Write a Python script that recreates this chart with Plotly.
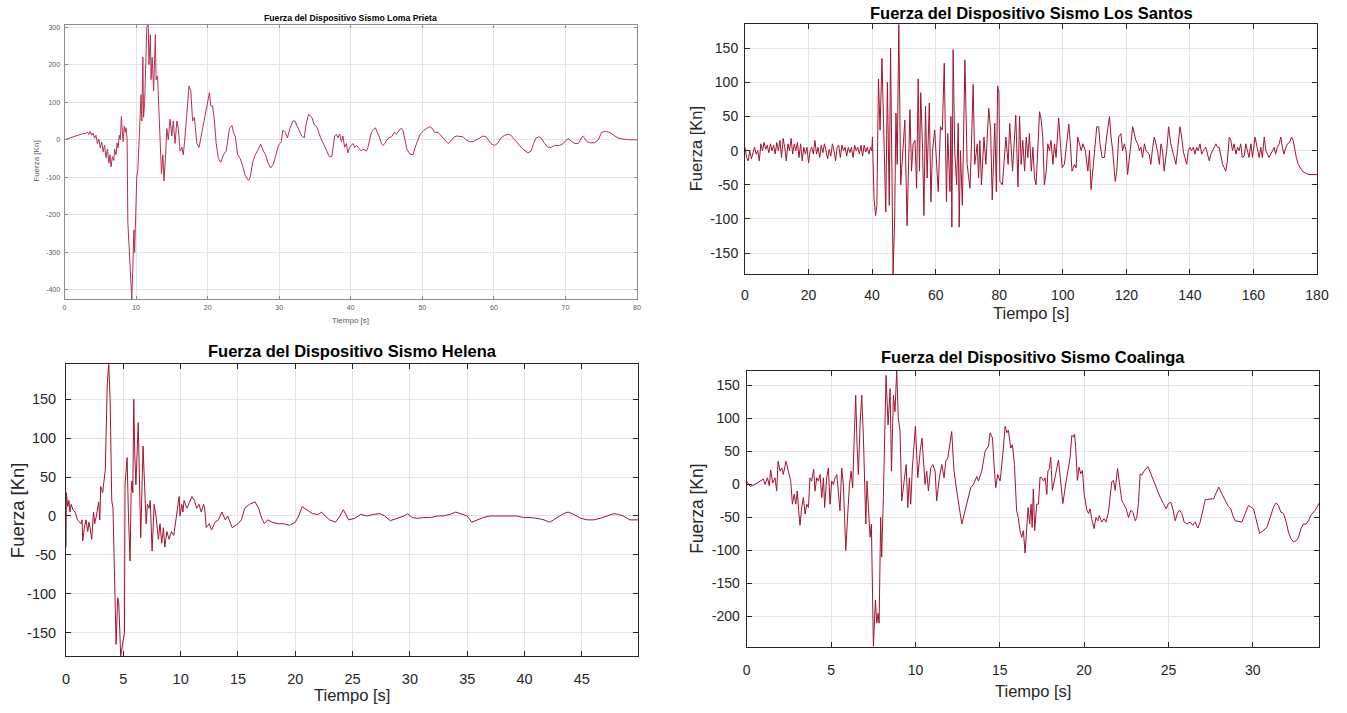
import plotly.graph_objects as go

# ---------------- DATA ----------------
# Loma Prieta: (time [s], force [Kn])
LOMA = [(0,0),(1,6),(2,14),(2.5,16),(3.0,17),(3.2,21),(3.4,14),(3.6,22),(3.8,12),(4.0,18),(4.2,4),(4.4,12),
        (4.6,-10),(4.8,2),(5.0,-22),(5.2,-6),(5.4,-32),(5.6,-14),(5.8,-48),(6.0,-25),(6.2,-62),(6.35,-40),
        (6.5,-72),(6.7,-45),(6.9,-55),(7.0,-25),(7.2,-40),(7.35,-8),(7.5,-22),(7.65,12),(7.8,0),(7.95,62),
        (8.1,18),(8.2,-5),(8.35,36),(8.5,20),(8.6,32),(8.75,0),(8.85,-220),(9.0,-280),(9.2,-380),(9.4,-424),
        (9.55,-340),(9.7,-240),(9.8,-300),(9.9,-250),(10.1,-100),(10.25,-80),(10.4,-20),(10.6,80),(10.7,120),
        (10.8,50),(10.95,220),(11.05,60),(11.2,100),(11.35,200),(11.5,300),(11.7,307),(11.8,200),(12.0,280),
        (12.1,160),(12.25,220),(12.45,130),(12.7,280),(12.8,160),(13.0,170),(13.2,60),(13.4,0),(13.55,-90),
        (13.75,-40),(13.9,-110),(14.1,-50),(14.3,30),(14.5,0),(14.75,55),(15.0,10),(15.2,50),(15.45,-10),
        (15.7,50),(15.9,30),(16.15,-30),(16.4,-20),(16.6,-40),(16.85,10),(17.1,80),(17.4,143),(17.65,130),
        (17.9,50),(18.15,60),(18.5,-10),(18.8,-20),(19.2,20),(19.5,40),(19.9,90),(20.25,125),(20.45,90),
        (20.7,90),(20.95,50),(21.2,-10),(21.5,-50),(21.85,-60),(22.2,-40),(22.6,-30),(23.05,30),(23.4,38),
        (23.6,20),(23.85,10),(24.2,-40),(24.55,-50),(24.9,-70),(25.25,-95),(25.7,-108),(25.95,-100),(26.3,-60),
        (26.65,-40),(27.1,-25),(27.4,-12),(27.8,-30),(28.1,-40),(28.4,-60),(28.8,-75),(29.2,-65),(29.6,-40),
        (29.9,-15),(30.3,-5),(30.5,25),(30.85,20),(31.15,5),(31.5,30),(31.9,50),(32.2,50),(32.7,30),(33.15,10),
        (33.5,5),(33.75,40),(34.1,68),(34.55,60),(34.9,40),(35.25,35),(35.7,10),(36.2,-10),(36.65,-30),
        (37.0,-45),(37.35,-45),(37.5,-20),(37.75,10),(38.0,15),(38.2,5),(38.45,15),(38.7,-5),(38.9,10),
        (39.15,-20),(39.4,-10),(39.6,-35),(39.85,-20),(40.1,-15),(40.3,-10),(40.55,-20),(40.8,-15),(41.25,-25),
        (41.5,-30),(41.7,-25),(42.2,-30),(42.4,-20),(42.65,0),(42.9,20),(43.1,25),(43.45,32),(43.7,20),
        (43.95,10),(44.3,-10),(44.5,-15),(44.75,-10),(45.05,0),(45.35,5),(45.7,8),(46.1,20),(46.4,15),
        (46.85,28),(47.1,30),(47.3,25),(47.6,0),(47.85,-25),(48.25,-38),(48.7,-40),(49.0,-20),(49.4,0),
        (49.7,15),(50.2,25),(50.6,30),(51.0,35),(51.4,30),(51.7,20),(52.2,20),(52.65,10),(53.1,0),(53.6,-10),
        (53.9,-5),(54.3,5),(54.75,10),(55.2,10),(55.7,8),(56.1,0),(56.6,-5),(57.1,-5),(57.55,0),(58.0,5),
        (58.5,10),(58.9,8),(59.6,-10),(60.1,-15),(60.5,-10),(61.0,5),(61.5,12),(62.0,15),(62.4,12),(62.9,0),
        (63.35,-10),(64.05,-25),(64.75,-35),(65.2,-30),(65.55,-10),(65.9,5),(66.3,8),(66.6,5),(67.1,-10),
        (67.55,-20),(68.0,-20),(68.5,-15),(69.2,-15),(69.7,-10),(70.15,0),(70.5,3),(70.85,-5),(71.35,-10),
        (71.8,-10),(72.1,0),(72.4,10),(72.65,5),(73.0,-5),(73.45,-8),(74.05,-8),(74.6,0),(75.05,20),(75.5,22),
        (76.2,20),(76.9,10),(77.35,5),(78.0,2),(78.95,0),(80,0)]

# Los Santos
SANTOS = [(0,5),(0.5,-10),(1,-15),(1.5,0),(2,-12),(2.5,-5),(3,5),(3.5,-5),(4,0),(4.5,-15),(5,10),(5.5,0),
          (6,12),(6.5,2),(7,8),(7.5,-3),(8,10),(8.5,0),(9,8),(9.5,-5),(10,12),(10.5,0),(11,15),(11.5,-10),
          (12,18),(12.5,5),(13,-15),(13.5,10),(14,0),(14.5,18),(15,-5),(15.5,10),(16,0),(16.5,12),(17,-10),
          (17.5,10),(18,-15),(18.5,5),(19,-5),(19.5,5),(20,-18),(20.5,0),(21,5),(21.5,-5),(22,15),(22.5,-5),
          (23,5),(23.5,-10),(24,8),(24.5,-3),(25,10),(25.5,0),(26,-12),(26.5,2),(27,-8),(27.5,10),(28,0),
          (28.5,-15),(29,5),(29.5,8),(30,-10),(30.5,8),(31,0),(31.5,5),(32,-8),(32.5,5),(33,-3),(33.5,5),
          (34,-10),(34.5,8),(35,0),(35.5,5),(36,-5),(36.5,8),(37,-8),(37.5,8),(38,-2),(38.5,5),(39,-5),
          (39.5,5),(39.9,0),(40.1,20),(40.6,-70),(41.1,-95),(41.5,-80),(42.0,105),(42.5,30),(43.1,135),
          (43.5,60),(43.9,0),(44.3,-90),(44.8,100),(45.4,-80),(45.8,150),(46.2,-20),(46.6,-181),(47.1,-100),
          (47.5,55),(47.9,-20),(48.4,185),(49.0,-50),(49.6,0),(50.3,45),(51.0,-110),(51.9,60),(52.4,-30),
          (52.9,10),(53.5,15),(54.0,-55),(54.5,105),(54.9,-30),(55.3,85),(55.9,0),(56.3,-95),(56.8,65),
          (57.3,-40),(58.0,70),(58.5,-75),(59.0,0),(59.7,30),(60.3,-20),(60.8,-60),(61.5,35),(62.1,30),
          (62.7,128),(63.1,20),(63.4,-75),(63.8,25),(64.5,-60),(64.8,50),(65.1,-112),(65.5,148),(66.0,0),
          (66.6,-50),(67.1,40),(67.4,-112),(67.8,0),(68.4,-80),(69.2,133),(69.9,-20),(70.8,-55),(71.4,30),
          (71.8,97),(72.3,-20),(73.1,10),(73.5,-40),(73.9,15),(74.4,-50),(75.2,20),(75.8,-20),(76.7,62),
          (77.3,30),(77.8,-72),(78.6,40),(79.1,-60),(79.5,95),(79.9,85),(80.2,-45),(81.0,-50),(82.1,20),
          (82.8,-20),(83.3,40),(84.2,-30),(85.2,52),(85.9,-53),(86.4,50),(86.9,-20),(87.4,15),(88.0,-30),
          (88.5,20),(89.0,-10),(89.5,25),(90.1,-30),(90.6,5),(91.1,-40),(91.6,-50),(92.1,10),(92.7,57),
          (93.2,45),(93.7,20),(94.2,-50),(94.8,-30),(95.3,10),(95.8,0),(96.3,15),(96.9,-20),(97.4,10),
          (97.9,-10),(98.7,48),(99.2,20),(99.8,-25),(100.5,-20),(101.3,20),(101.9,39),(102.4,10),(102.9,-30),
          (103.7,-20),(104.2,-25),(104.7,20),(105.2,10),(105.8,0),(106.3,10),(107.1,0),(107.9,-30),(108.4,0),
          (108.9,-57),(109.6,-20),(110.3,20),(110.7,35),(111.3,35),(111.7,10),(112.4,-10),(113.1,-10),
          (113.8,20),(114.7,50),(115.2,20),(115.7,0),(116.5,-45),(117.0,-30),(117.6,20),(118.3,25),(118.8,0),
          (119.4,10),(119.9,0),(120.4,-35),(121.2,0),(122.0,35),(122.5,25),(123.0,15),(123.6,10),(124.1,0),
          (124.6,5),(125.1,-10),(125.7,10),(126.2,0),(127.2,-5),(127.7,-20),(128.3,5),(128.8,20),(129.3,10),
          (129.8,0),(130.4,-20),(130.9,10),(131.4,0),(131.9,-30),(132.7,0),(133.3,35),(134.0,10),(134.6,0),
          (135.6,-20),(136.1,0),(136.9,35),(137.4,20),(137.9,0),(138.4,-10),(139.0,-20),(139.5,0),(140.0,5),
          (140.5,0),(141.1,5),(141.6,-5),(142.1,5),(142.6,0),(143.2,10),(143.7,-5),(144.2,0),(145.0,5),
          (146.1,-15),(146.6,-5),(147.1,0),(148.2,10),(148.7,5),(149.2,5),(150.3,-20),(151.3,-30),(151.8,-15),
          (152.4,20),(152.9,15),(153.4,0),(153.9,10),(154.5,-5),(155.0,5),(155.5,0),(156.0,10),(156.5,-10),
          (157.1,-8),(157.6,10),(158.1,0),(158.6,-10),(159.2,10),(159.7,-10),(160.5,20),(161.3,0),(161.8,-10),
          (162.3,5),(162.8,-10),(163.4,20),(163.9,0),(164.4,-5),(164.9,-10),(166.0,0),(166.5,5),(167.0,-5),
          (167.5,5),(168.1,10),(168.6,20),(169.1,5),(169.6,-5),(170.2,5),(170.7,10),(171.4,12),(172.0,20),
          (172.5,15),(173.0,0),(173.5,-10),(174.1,-20),(174.7,-25),(175.4,-30),(176.4,-33),(177.5,-35),(180.0,-35)]

# Helena
HELENA = [(0,-40),(0.03,30),(0.15,12),(0.25,20),(0.35,5),(0.45,15),(0.6,8),(0.8,5),(1.0,-5),(1.15,-8),(1.3,-10),
          (1.4,-5),(1.46,-32),(1.6,-15),(1.75,-5),(1.9,-20),(2.0,-8),(2.1,-15),(2.24,-30),(2.4,5),(2.5,-10),
          (2.65,0),(2.85,18),(2.95,-5),(3.03,38),(3.2,30),(3.35,55),(3.43,60),(3.6,170),(3.73,195),(3.85,150),
          (3.99,20),(4.1,10),(4.37,-165),(4.51,-105),(4.6,-110),(4.77,-180),(4.95,-160),(5.1,-150),(5.15,40),
          (5.33,75),(5.45,0),(5.59,-58),(5.68,30),(5.75,45),(5.83,30),(5.91,150),(6.0,80),(6.1,40),(6.3,120),
          (6.4,60),(6.52,-28),(6.72,90),(6.85,30),(6.99,-10),(7.1,15),(7.25,10),(7.35,20),(7.51,-45),(7.69,15),
          (7.85,0),(8.06,-30),(8.2,-10),(8.35,-35),(8.5,-15),(8.62,-40),(8.8,-20),(9.0,-30),(9.2,-20),(9.4,-25),
          (9.6,-5),(9.75,10),(9.87,25),(9.95,0),(10.1,15),(10.2,5),(10.3,20),(10.55,10),(10.8,20),(10.98,25),
          (11.2,20),(11.4,10),(11.6,15),(11.8,5),(12.0,15),(12.1,10),(12.23,-15),(12.5,-10),(12.7,-18),(13.0,-8),
          (13.3,-5),(13.6,5),(13.9,-5),(14.1,0),(14.5,-15),(15.0,-10),(15.3,-5),(15.6,10),(16.0,15),(16.5,18),
          (16.8,10),(17.0,0),(17.3,-10),(17.6,-5),(18.0,-8),(18.5,-10),(19.0,-10),(19.5,-12),(20.0,-8),(20.3,0),
          (20.6,12),(21.0,8),(21.5,3),(22.0,2),(22.3,5),(22.6,0),(23.0,-5),(23.5,-8),(23.9,0),(24.2,8),
          (24.65,-5),(25.2,-3),(25.7,2),(26.3,0),(26.8,2),(27.4,3),(27.8,0),(28.3,-6),(28.9,-3),(29.5,0),
          (29.8,3),(30.2,-2),(30.6,-3),(31.2,-2),(31.8,-2),(32.4,0),(32.9,0),(33.5,2),(34.0,5),(34.5,2),
          (35.0,0),(35.4,-8),(35.9,-5),(36.4,-2),(37.0,0),(37.6,0),(38.2,0),(38.8,0),(39.3,0),(39.9,-2),
          (40.5,-2),(41.1,-3),(41.7,-5),(42.2,-8),(42.8,-2),(43.4,3),(43.8,5),(44.3,2),(44.9,-3),(45.5,-5),
          (46.0,-5),(46.6,-3),(47.2,0),(47.8,3),(48.2,2),(48.6,0),(49.2,-5),(49.9,-5)]

# Coalinga
COALINGA = [(0.0,5),(0.2,-3),(0.49,0),(0.79,5),(0.99,8),(1.09,0),(1.23,10),(1.34,-2),(1.42,22),(1.54,2),(1.68,10),
            (1.78,-10),(1.86,35),(1.98,20),(2.08,25),(2.17,15),(2.33,35),(2.47,20),(2.61,5),(2.71,-30),(2.81,-15),
            (2.91,-30),(3.0,-10),(3.08,-40),(3.16,-62),(3.26,-35),(3.36,-20),(3.46,-45),(3.56,-30),(3.66,-35),
            (3.75,10),(3.85,5),(3.97,23),(4.05,-10),(4.15,10),(4.25,5),(4.35,15),(4.45,-20),(4.55,10),(4.62,-35),
            (4.74,10),(4.84,25),(4.94,-30),(5.04,5),(5.14,0),(5.24,10),(5.34,15),(5.43,-10),(5.53,-40),(5.63,25),
            (5.73,0),(5.87,-100),(5.99,-40),(6.09,0),(6.19,20),(6.28,-5),(6.36,60),(6.46,135),(6.54,60),(6.62,15),
            (6.72,90),(6.82,135),(6.92,70),(6.98,-10),(7.06,-60),(7.13,5),(7.23,-50),(7.31,-80),(7.39,-60),
            (7.51,-245),(7.63,-175),(7.71,-210),(7.79,-195),(7.85,-210),(7.94,-50),(8.0,-110),(8.1,-20),(8.26,165),
            (8.38,90),(8.5,145),(8.58,20),(8.7,135),(8.79,110),(8.89,172),(8.99,100),(9.09,80),(9.19,-25),(9.33,5),
            (9.45,30),(9.55,-35),(9.64,10),(9.72,-30),(9.82,25),(10.0,88),(10.14,10),(10.28,50),(10.39,70),
            (10.57,0),(10.67,20),(10.77,-10),(10.91,25),(11.03,30),(11.17,20),(11.26,-25),(11.42,10),(11.56,30),
            (11.7,10),(11.8,35),(11.92,40),(12.15,80),(12.29,20),(12.45,-10),(12.75,-60),(12.94,-40),(13.08,-25),
            (13.28,-5),(13.44,0),(13.64,12),(13.74,5),(13.93,20),(14.13,50),(14.33,58),(14.43,78),(14.57,70),
            (14.66,30),(14.76,-5),(14.88,15),(15.02,5),(15.18,45),(15.32,88),(15.42,78),(15.51,82),(15.65,55),
            (15.75,60),(15.87,30),(16.0,-40),(16.1,-50),(16.2,-70),(16.3,-80),(16.4,-70),(16.5,-104),(16.6,-70),
            (16.68,-35),(16.77,-60),(16.86,-30),(16.92,-65),(16.99,-7),(17.07,-70),(17.19,-30),(17.29,-30),
            (17.39,11),(17.49,10),(17.59,5),(17.69,10),(17.79,-15),(17.85,20),(17.94,24),(18.02,41),(18.12,-9),
            (18.48,37),(18.74,-29),(18.88,-4),(19.07,26),(19.17,41),(19.27,74),(19.37,72),(19.43,76),(19.5,57),
            (19.6,6),(19.7,26),(19.8,16),(19.9,21),(20.0,-14),(20.16,-39),(20.26,-44),(20.35,-37),(20.45,-52),
            (20.59,-67),(20.7,-50),(20.81,-55),(20.9,-47),(21.04,-57),(21.18,-52),(21.3,-57),(21.44,-42),
            (21.54,-22),(21.64,4),(21.74,6),(21.84,-9),(21.98,24),(22.07,6),(22.23,-24),(22.33,-29),(22.49,-37),
            (22.63,-50),(22.77,-39),(22.89,-42),(23.03,-55),(23.12,-50),(23.22,-29),(23.32,16),(23.42,14),
            (23.52,19),(23.66,24),(23.78,27),(23.91,19),(24.11,6),(24.31,-9),(24.5,-19),(24.7,-29),(24.86,-37),
            (25.0,-29),(25.14,-27),(25.26,-37),(25.4,-55),(25.53,-44),(25.65,-39),(25.79,-44),(25.93,-57),
            (26.09,-60),(26.28,-57),(26.44,-62),(26.58,-57),(26.74,-66),(26.88,-57),(27.04,-39),(27.18,-23),
            (27.31,-23),(27.47,-22),(27.67,-22),(27.83,-12),(27.98,-4),(28.16,-14),(28.36,-24),(28.56,-34),
            (28.7,-37),(28.81,-47),(28.95,-55),(29.15,-56),(29.35,-57),(29.55,-44),(29.74,-32),(29.88,-34),
            (30.04,-37),(30.14,-47),(30.28,-62),(30.4,-74),(30.53,-72),(30.67,-69),(30.83,-65),(31.03,-50),
            (31.23,-34),(31.38,-28),(31.52,-32),(31.66,-42),(31.82,-44),(31.98,-57),(32.11,-72),(32.25,-82),
            (32.41,-87),(32.57,-85),(32.71,-80),(32.85,-67),(33.0,-60),(33.16,-60),(33.3,-55),(33.44,-47),
            (33.6,-42),(33.75,-37),(33.94,-28)]

TITLES = ["Fuerza del Dispositivo Sismo Loma Prieta", "Fuerza del Dispositivo Sismo Los Santos",
          "Fuerza del Dispositivo Sismo Helena", "Fuerza del Dispositivo Sismo Coalinga"]
X_LABEL = "Tiempo [s]"
Y_LABEL = "Fuerza [Kn]"

# tick values per panel (x, y)
LOMA_XTICKS = [0, 10, 20, 30, 40, 50, 60, 70, 80]
LOMA_YTICKS = [-400, -300, -200, -100, 0, 100, 200, 300]
SANTOS_XTICKS = [0, 20, 40, 60, 80, 100, 120, 140, 160, 180]
SANTOS_YTICKS = [-150, -100, -50, 0, 50, 100, 150]
HELENA_XTICKS = [0, 5, 10, 15, 20, 25, 30, 35, 40, 45]
HELENA_YTICKS = [-150, -100, -50, 0, 50, 100, 150]
COALINGA_XTICKS = [0, 5, 10, 15, 20, 25, 30]
COALINGA_YTICKS = [-200, -150, -100, -50, 0, 50, 100, 150]

# ---------------- LAYOUT / STYLE ----------------
W, H = 1347, 713
FONT = "Liberation Sans, Arial, sans-serif"
LINE = "#A2142F"


def fx(p):
    return p / W


def fy(p):
    return 1 - p / H


PANELS = [
    dict(data=LOMA, xt=LOMA_XTICKS, yt=LOMA_YTICKS, box=(64.5, 637, 24.5, 299), xr=[0, 80], yr=[-424, 307],
         tick=7, title=8.7, xlab=8, ylab=8, axc="#8c8c8c", txt="#5a5a5a", tlen=3, xstand=2, ystand=2,
         ttl_y=17.5, xl_y=320, yl_x=37, width=1.0, color="#b8304e"),
    dict(data=SANTOS, xt=SANTOS_XTICKS, yt=SANTOS_YTICKS, box=(745, 1317, 24.3, 274.3), xr=[0, 180],
         yr=[-181, 185], tick=14, title=16.5, xlab=16.5, ylab=16.5, axc="#262626", txt="#262626", tlen=5,
         xstand=8, ystand=3, ttl_y=12.5, xl_y=313, yl_x=696, width=1.0, color=LINE),
    dict(data=HELENA, xt=HELENA_XTICKS, yt=HELENA_YTICKS, box=(66, 638, 364.3, 656), xr=[0, 49.9],
         yr=[-180, 195], tick=14.5, title=16.5, xlab=16.5, ylab=18.5, axc="#262626", txt="#262626", tlen=5,
         xstand=10, ystand=6, ttl_y=351, xl_y=695, yl_x=17, width=1.0, color=LINE),
    dict(data=COALINGA, xt=COALINGA_XTICKS, yt=COALINGA_YTICKS, box=(746.7, 1319.3, 370.7, 647),
         xr=[0, 33.94], yr=[-246, 172], tick=14, title=16.5, xlab=16.5, ylab=17.5, axc="#262626",
         txt="#262626", tlen=5, xstand=10, ystand=3, ttl_y=357, xl_y=691, yl_x=697, width=1.0, color=LINE),
]

fig = go.Figure()
layout = dict(width=W, height=H, margin=dict(l=0, r=0, t=0, b=0, autoexpand=False),
              paper_bgcolor="white", plot_bgcolor="white", showlegend=False, annotations=[])

for i, p in enumerate(PANELS, start=1):
    sfx = "" if i == 1 else str(i)
    ts = [a for a, b in p["data"]]
    fs = [b for a, b in p["data"]]
    fig.add_trace(go.Scatter(x=ts, y=fs, mode="lines", xaxis="x" + sfx, yaxis="y" + sfx,
                             line=dict(color=p["color"], width=p["width"]), hoverinfo="skip"))
    l, r, t, b = p["box"]
    common = dict(showline=True, linecolor=p["axc"], linewidth=1, mirror="allticks",
                  ticks="inside", ticklen=p["tlen"], tickcolor=p["axc"], tickwidth=1,
                  showgrid=True, gridcolor="#e4e4e4", gridwidth=1, zeroline=False, automargin=False,
                  tickfont=dict(family=FONT, size=p["tick"], color=p["txt"]), tickmode="array")
    layout["xaxis" + sfx] = dict(common, domain=[fx(l), fx(r)], range=p["xr"],
                                 tickvals=p["xt"], ticktext=[str(v) for v in p["xt"]],
                                 anchor="y" + sfx, ticklabelstandoff=p["xstand"])
    layout["yaxis" + sfx] = dict(common, domain=[fy(b), fy(t)], range=p["yr"],
                                 tickvals=p["yt"], ticktext=[str(v) for v in p["yt"]],
                                 anchor="x" + sfx, ticklabelstandoff=p["ystand"])
    cx = (l + r) / 2
    cy = (t + b) / 2
    layout["annotations"] += [
        dict(text="<b>" + TITLES[i - 1] + "</b>", x=fx(cx), y=fy(p["ttl_y"]), xref="paper", yref="paper",
             showarrow=False, xanchor="center", yanchor="middle",
             font=dict(family=FONT, size=p["title"], color="#000000")),
        dict(text=X_LABEL, x=fx(cx), y=fy(p["xl_y"]), xref="paper", yref="paper", showarrow=False,
             xanchor="center", yanchor="middle", font=dict(family=FONT, size=p["xlab"], color=p["txt"])),
        dict(text=Y_LABEL, x=fx(p["yl_x"]), y=fy(cy), xref="paper", yref="paper", showarrow=False,
             textangle=-90, xanchor="center", yanchor="middle",
             font=dict(family=FONT, size=p["ylab"], color=p["txt"])),
    ]

fig.update_layout(**layout)
# the page's default 8px body margin is removed so the figure fills the 1347x713 window exactly
fig.write_html("out.html", config={"displayModeBar": False},
               post_script="document.body.style.margin='0px';")
